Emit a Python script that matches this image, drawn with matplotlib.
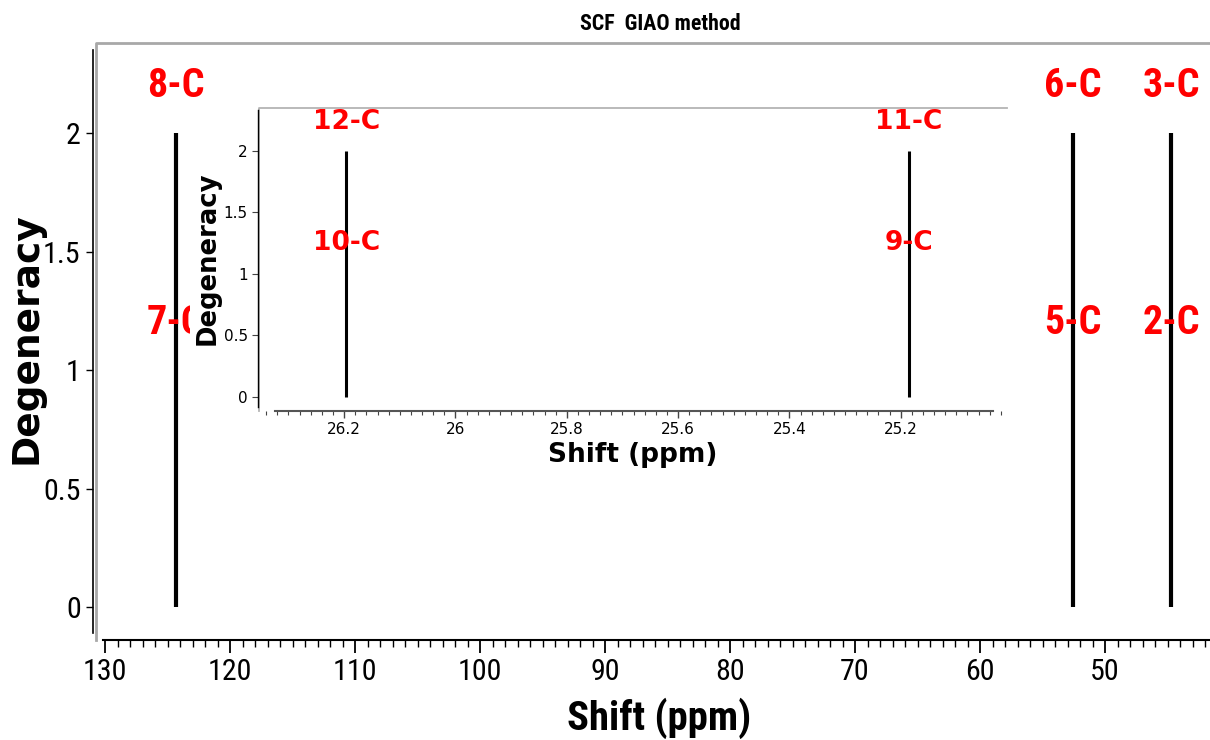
import matplotlib
matplotlib.use('Agg')
import matplotlib.pyplot as plt
from matplotlib import font_manager
from matplotlib.ticker import FixedLocator, MultipleLocator
from matplotlib.patches import Rectangle

# main spectrum
main_shift = [124.35, 52.6, 44.7]
main_deg = [2, 2, 2]
main_top = ['8-C', '6-C', '3-C']
main_mid = ['7-C', '5-C', '2-C']
main_xticks = [130, 120, 110, 100, 90, 80, 70, 60, 50]
main_yticks = [0, 0.5, 1, 1.5, 2]
main_yticklabels = ['0', '0.5', '1', '1.5', '2']

# inset (zoom on 25-26.3 ppm)
inset_shift = [26.196, 25.185]
inset_deg = [2, 2]
inset_top = ['12-C', '11-C']
inset_mid = ['10-C', '9-C']
inset_xticks = [26.2, 26.0, 25.8, 25.6, 25.4, 25.2]
inset_xticklabels = ['26.2', '26', '25.8', '25.6', '25.4', '25.2']

# pick a narrow face for the big labels if one is installed
fonts = [(f.name, f.stretch) for f in font_manager.fontManager.ttflist]
NARROW, STRETCH, k = 'DejaVu Sans', 'normal', 0.72
for name, st, kk in [('Roboto Condensed', None, 0.9),
                     ('Liberation Sans Narrow', None, 1.0),
                     ('DejaVu Sans', 'condensed', 0.8)]:
    if any(n == name and (st is None or s == st) for n, s in fonts):
        NARROW, STRETCH, k = name, (st or 'normal'), kk
        break
NF = dict(family=NARROW, stretch=STRETCH)

W, H = 1210, 740
fig = plt.figure(figsize=(W / 100, H / 100), dpi=100)


def box(l, t, r, b):
    return [l / W, 1 - b / H, (r - l) / W, (b - t) / H]


# ---- main axes
ax = fig.add_axes(box(96, 43, 1300, 640))
ax.set_xlim(130.72, 34.4)
ax.set_ylim(-0.139, 2.38)
ax.vlines(main_shift, 0, main_deg, color='black', lw=3.0)
for x, t in zip(main_shift, main_top):
    ax.text(x, 2.2, t, color='red', fontsize=32 * k, fontweight='bold',
            ha='center', va='center', **NF)
for x, t in zip(main_shift, main_mid):
    ax.text(x, 1.2, t, color='red', fontsize=32 * k, fontweight='bold',
            ha='center', va='center', **NF)

ax.spines['top'].set_visible(False)
ax.spines['right'].set_visible(False)
ax.spines['bottom'].set_bounds(130.16, 34.4)
ax.spines['bottom'].set_linewidth(1.5)
ax.spines['left'].set_position(('outward', 2.5))
ax.spines['left'].set_bounds(-0.11, 2.35)
ax.spines['left'].set_linewidth(1.2)
ax.plot([0, 0, 1], [0, 1, 1], transform=ax.transAxes, color='#a8a8a8',
        lw=2, clip_on=False)

ax.xaxis.set_major_locator(FixedLocator(main_xticks))
ax.set_xticklabels([str(v) for v in main_xticks])
ax.xaxis.set_minor_locator(MultipleLocator(1))
ax.set_yticks(main_yticks)
ax.set_yticklabels(main_yticklabels)
ax.tick_params(axis='x', which='major', length=9, width=1.3, pad=4)
ax.tick_params(axis='x', which='minor', length=5, width=1.0)
ax.tick_params(axis='y', which='major', length=5, width=1.0, pad=3.5)
for lab in ax.get_xticklabels() + ax.get_yticklabels():
    lab.set_family(NARROW)
    lab.set_stretch(STRETCH)
    lab.set_fontsize(24 * k)
ax.set_facecolor('white')

# white patch under the inset
fig.add_artist(Rectangle((190 / W, 1 - 470 / H), (1010 - 190) / W, (470 - 100) / H,
                         transform=fig.transFigure, facecolor='white',
                         edgecolor='none', zorder=1))

# ---- inset axes
ax2 = fig.add_axes(box(259, 108, 1007, 410.7))
ax2.set_zorder(2)
ax2.set_xlim(26.353, 25.009)
ax2.set_ylim(-0.114, 2.35)
ax2.vlines(inset_shift, 0, inset_deg, color='black', lw=2.2)
for x, t in zip(inset_shift, inset_top):
    ax2.text(x, 2.24, t, color='red', fontsize=19, fontweight='bold',
             ha='center', va='center')
for x, t in zip(inset_shift, inset_mid):
    ax2.text(x, 1.25, t, color='red', fontsize=19, fontweight='bold',
             ha='center', va='center')

ax2.spines['top'].set_visible(False)
ax2.spines['right'].set_visible(False)
ax2.spines['bottom'].set_bounds(26.324, 25.034)
ax2.spines['bottom'].set_color('#555555')
ax2.spines['bottom'].set_linewidth(1.5)
ax2.spines['left'].set_position(('outward', 1.0))
ax2.spines['left'].set_bounds(-0.084, 2.334)
ax2.spines['left'].set_linewidth(1.0)
ax2.plot([0, 0, 1], [0, 1, 1], transform=ax2.transAxes, color='#b4b4b4',
         lw=1.3, clip_on=False)

ax2.xaxis.set_major_locator(FixedLocator(inset_xticks))
ax2.set_xticklabels(inset_xticklabels)
ax2.xaxis.set_minor_locator(MultipleLocator(0.02))
ax2.set_yticks(main_yticks)
ax2.set_yticklabels(main_yticklabels)
ax2.tick_params(axis='x', which='major', length=5, width=1.0, pad=3,
                labelsize=11, color='#444444')
ax2.tick_params(axis='x', which='minor', length=3, width=0.8, color='#444444')
ax2.tick_params(axis='y', which='major', length=4, width=0.8, pad=3,
                labelsize=11, color='#444444')
ax2.set_facecolor('white')

# ---- labels and title
fig.text(660 / W, 1 - 24 / H, 'SCF  GIAO method', fontsize=17.5 * k,
         fontweight='bold', ha='center', va='center', **NF)
fig.text(659 / W, 1 - 718 / H, 'Shift (ppm)', fontsize=32.5 * k,
         fontweight='bold', ha='center', va='center', **NF)
fig.text(27 / W, 1 - 338 / H, 'Degeneracy', fontsize=27, fontweight='bold',
         rotation=90, ha='center', va='center')
fig.text(633 / W, 1 - 455 / H, 'Shift (ppm)', fontsize=19, fontweight='bold',
         ha='center', va='center', zorder=3)
fig.text(208 / W, 1 - 258 / H, 'Degeneracy', fontsize=18.6, fontweight='bold',
         rotation=90, ha='center', va='center', zorder=3)

fig.savefig('out.png', dpi=100, facecolor='white')
